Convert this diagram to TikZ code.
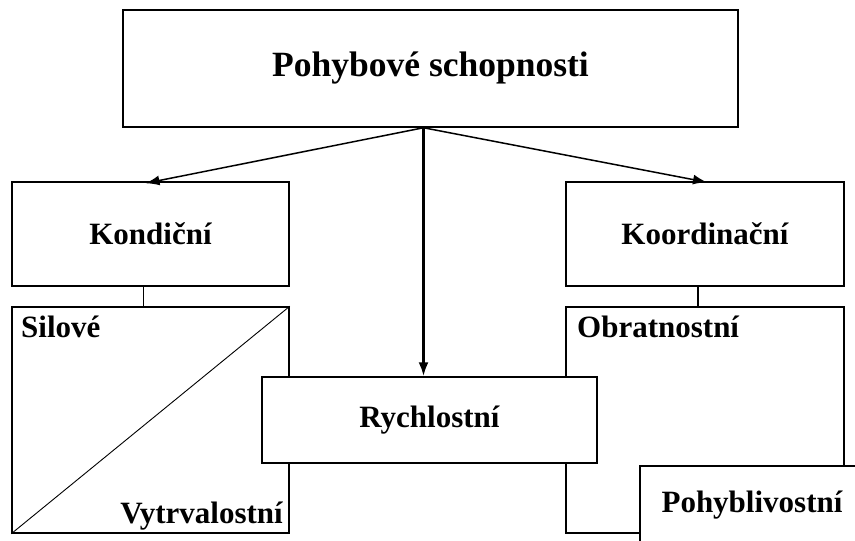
\documentclass[tikz,border=0pt]{standalone}
\usepackage{fontspec}
\setmainfont{Liberation Serif}
\usetikzlibrary{arrows.meta,calc}
\begin{document}
\begin{tikzpicture}[x=1pt,y=-1pt,
  box/.style={draw=black,line width=1.5pt,rectangle,inner sep=0pt,fill=white,
    font=\bfseries\fontsize{31}{36}\selectfont},
  lbl/.style={inner sep=0pt,font=\bfseries\fontsize{31}{36}\selectfont},
  conn/.style={line width=1.5pt},
  arr/.style={line width=1.5pt,-{Latex[length=14pt,width=10pt]}}]
\clip (0,0) rectangle (855,541);
\fill[white] (0,0) rectangle (855,541);
% boxes
\node[box,minimum width=615pt,minimum height=117pt,text height=25pt,text depth=10pt,
  font=\bfseries\fontsize{35.5}{40}\selectfont] (top) at (430.5,68.5) {Pohybové schopnosti};
\node[box,minimum width=277pt,minimum height=104pt] (kond) at (150.5,234) {Kondiční};
\node[box,minimum width=278pt,minimum height=104pt] (koord) at (705,234) {Koordinační};
\node[box,minimum width=277pt,minimum height=226pt] (sil) at (150.5,420) {};
\node[box,minimum width=278pt,minimum height=226pt] (obr) at (705,420) {};
\draw[line width=0.9pt] (sil.south west) -- (sil.north east);
\node[lbl,anchor=base west] (silt) at (21,337) {Silové};
\node[lbl,anchor=base east] (vytt) at (283,523) {Vytrvalostní};
\node[lbl,anchor=base west] (obrt) at (577,337) {Obratnostní};
\node[box,minimum width=335pt,minimum height=86pt] (rych) at (429.5,420) {Rychlostní};
\node[box,minimum width=224pt,minimum height=78pt] (pohyb) at (752,505) {Pohyblivostní};
% connectors
\draw[conn] ([xshift=-7pt]kond.south) -- ([xshift=-7pt]kond.south |- sil.north);
\draw[conn] ([xshift=-7pt]koord.south) -- ([xshift=-7pt]koord.south |- obr.north);
\draw[arr] ([xshift=-7pt]top.south) -- ([xshift=-5pt,yshift=-2pt]kond.north);
\draw[arr] ([xshift=-7pt]top.south) -- ([xshift=2pt,yshift=-1pt]koord.north);
\draw[arr,line width=2.4pt] ([xshift=-7pt]top.south) -- ([xshift=-7pt]top.south |- rych.north);
\end{tikzpicture}
\end{document}
